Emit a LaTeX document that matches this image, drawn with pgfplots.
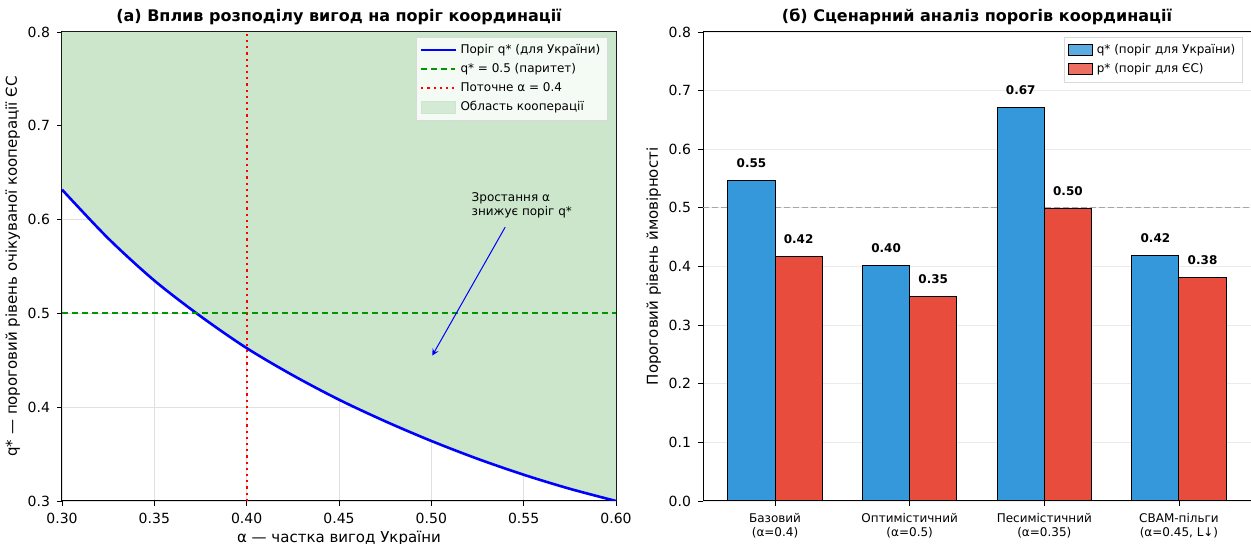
\documentclass[border=0pt]{standalone}
\usepackage{pgfplots}
\pgfplotsset{compat=1.18}
\usepackage{fontspec}
\setmainfont{DejaVu Sans}
\definecolor{lineGreen}{RGB}{0,150,0}
\definecolor{fillGreen}{RGB}{204,230,204}
\definecolor{barblue}{HTML}{3498DB}
\definecolor{barred}{HTML}{E74C3C}
\begin{document}
\begin{tikzpicture}
\pgfplotsset{
  every axis/.append style={
    /pgf/number format/assume math mode=true,
    tick label style={font=\fontsize{7}{8}\selectfont},
    label style={font=\fontsize{7.5}{9}\selectfont},
    title style={font=\bfseries\fontsize{8}{9}\selectfont, yshift=-6pt},
    tick align=outside, tick style={black, line width=0.4pt},
    xtick pos=bottom, ytick pos=left,
    major tick length=2.5pt,
    axis line style={line width=0.5pt},
    legend style={font=\fontsize{6}{7.5}\selectfont, draw=black!15, fill=white, fill opacity=0.8, text opacity=1, inner sep=1.5pt, row sep=-0.5pt, at={(0.985,0.99)}, anchor=north east},
    legend cell align=left,
  },
}
% ---------- Left panel ----------
\begin{axis}[
  at={(0,0)}, anchor=south west,
  scale only axis, width=277pt, height=234.5pt,
  xmin=0.3, xmax=0.6, ymin=0.3, ymax=0.8,
  xtick={0.3,0.35,0.4,0.45,0.5,0.55,0.6},
  ytick={0.3,0.4,0.5,0.6,0.7,0.8},
  xticklabel style={/pgf/number format/.cd, fixed, fixed zerofill, precision=2},
  yticklabel style={/pgf/number format/.cd, fixed, fixed zerofill, precision=1},
  xmajorgrids, ymajorgrids, grid style={black!12, line width=0.4pt},
  title={(а) Вплив розподілу вигод на поріг координації},
  xlabel={α — частка вигод України},
  ylabel={q* — пороговий рівень очікуваної кооперації ЄС},
  xlabel style={yshift=3pt},
  ylabel style={yshift=-3pt},
]
\addplot[draw=none, fill=fillGreen, forget plot] coordinates {
(0.300,0.632) (0.325,0.580) (0.350,0.535) (0.375,0.497) (0.400,0.463)
(0.425,0.434) (0.450,0.408) (0.475,0.385) (0.500,0.364) (0.525,0.345)
(0.550,0.328) (0.575,0.313) (0.600,0.300) (0.600,0.8) (0.300,0.8)} -- cycle;
\addplot[blue, line width=1.3pt, smooth] coordinates {
(0.300,0.632) (0.325,0.580) (0.350,0.535) (0.375,0.497) (0.400,0.463)
(0.425,0.434) (0.450,0.408) (0.475,0.385) (0.500,0.364) (0.525,0.345)
(0.550,0.328) (0.575,0.313) (0.600,0.300)};
\addlegendentry{Поріг q* (для України)}
\addplot[lineGreen, densely dashed, line width=0.9pt] coordinates {(0.3,0.5) (0.45,0.5) (0.6,0.5)};
\addlegendentry{q* = 0.5 (паритет)}
\addplot[red, dotted, line width=1.1pt] coordinates {(0.4,0.3) (0.4,0.8)};
\addlegendentry{Поточне α = 0.4}
\addlegendimage{area legend, draw=fillGreen, fill=fillGreen}
\addlegendentry{Область кооперації}
\draw[-stealth, blue, line width=0.5pt] (axis cs:0.54,0.592) -- (axis cs:0.5005,0.455);
\node[font=\fontsize{6}{7}\selectfont, align=left, anchor=south] at (axis cs:0.549,0.594) {Зростання α\\знижує поріг q*};
\end{axis}
% ---------- Right panel ----------
\begin{axis}[
  at={(320.5pt,0)}, anchor=south west,
  scale only axis, width=274pt, height=234.5pt,
  xmin=-0.535, xmax=3.535, ymin=0, ymax=0.8,
  ybar, bar width=0.35,
  xtick={0,1,2,3},
  xticklabels={{Базовий\\(α=0.4)},{Оптимістичний\\(α=0.5)},{Песимістичний\\(α=0.35)},{CBAM-пільги\\(α=0.45, L↓)}},
  xticklabel style={align=center, font=\fontsize{6}{7}\selectfont},
  ytick={0,0.1,0.2,0.3,0.4,0.5,0.6,0.7,0.8},
  yticklabel style={/pgf/number format/.cd, fixed, fixed zerofill, precision=1},
  ymajorgrids, grid style={black!8, line width=0.4pt},
  title={(б) Сценарний аналіз порогів координації},
  ylabel={Пороговий рівень ймовірності},
  ylabel style={yshift=-3pt},
  legend image code/.code={\draw[#1] (0pt,-2.5pt) rectangle (12pt,3pt);},
  nodes near coords={\pgfmathprintnumber[fixed, fixed zerofill, precision=2]{\pgfplotspointmeta}},
  every node near coord/.append style={font=\bfseries\fontsize{6}{7}\selectfont, black, yshift=3pt},
]
\draw[gray!70, dash pattern=on 3pt off 1.5pt, line width=0.6pt] (axis cs:-0.535,0.5) -- (axis cs:3.535,0.5);
\addplot[bar shift=-0.175, fill=barblue, draw=black, line width=0.5pt] coordinates {(0,0.546) (1,0.401) (2,0.671) (3,0.419)};
\addlegendentry{q* (поріг для України)}
\addplot[bar shift=0.175, fill=barred, draw=black, line width=0.5pt] coordinates {(0,0.417) (1,0.349) (2,0.499) (3,0.381)};
\addlegendentry{p* (поріг для ЄС)}
\end{axis}
\pgfresetboundingbox
\path (-31pt,-21.5pt) rectangle (594.5pt,250.5pt);
\end{tikzpicture}
\end{document}
